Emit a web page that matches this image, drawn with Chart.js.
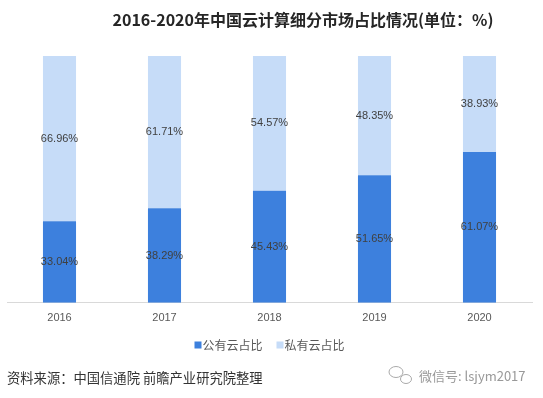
<!DOCTYPE html>
<html>
<head>
<meta charset="utf-8">
<script src="https://cdn.jsdelivr.net/npm/chart.js@4"></script>
<style>
  html, body { margin: 0; padding: 0; background: #fff; }
  #wrap { position: relative; width: 543px; height: 398px; }
</style>
</head>
<body>
<div id="wrap"><canvas id="chart" width="543" height="398"></canvas></div>
<script>
const years = ['2016', '2017', '2018', '2019', '2020'];
const publicShare = [33.04, 38.29, 45.43, 51.65, 61.07];
const privateShare = [66.96, 61.71, 54.57, 48.35, 38.93];
const seriesNames = ['公有云占比', '私有云占比'];

const FONT = '"Liberation Sans", "Noto Sans CJK SC", sans-serif';
const CJK = '"Noto Sans CJK SC", sans-serif';

// labels in the middle of each bar segment
const segmentLabels = {
    id: 'segmentLabels',
    afterDatasetsDraw(chart) {
        const ctx = chart.ctx;
        ctx.save();
        ctx.font = '11px ' + FONT;
        ctx.fillStyle = '#404040';
        ctx.textAlign = 'center';
        ctx.textBaseline = 'middle';
        chart.data.datasets.forEach((ds, i) => {
            chart.getDatasetMeta(i).data.forEach((bar, j) => {
                const p = bar.getCenterPoint();
                ctx.fillText(ds.data[j].toFixed(2) + '%', p.x, p.y);
            });
        });
        ctx.restore();
    }
};

// legend drawn by hand so box/text spacing matches
const bottomLegend = {
    id: 'bottomLegend',
    afterDraw(chart) {
        const ctx = chart.ctx;
        const y = 345;
        ctx.save();
        ctx.font = '12px ' + CJK;
        ctx.textBaseline = 'middle';
        const items = chart.data.datasets.map(ds => ({
            text: ds.label, color: ds.backgroundColor, w: 8 + ctx.measureText(ds.label).width
        }));
        const gap = 14;
        let total = items.reduce((s, it) => s + it.w, 0) + gap * (items.length - 1);
        let x = (chart.chartArea.left + chart.chartArea.right) / 2 - total / 2;
        items.forEach(it => {
            ctx.fillStyle = it.color;
            ctx.fillRect(x, y - 3.5, 7, 7);
            ctx.fillStyle = '#595959';
            ctx.fillText(it.text, x + 8, y);
            x += it.w + gap;
        });
        ctx.restore();
    }
};

// title, source line and wechat note
const extraText = {
    id: 'extraText',
    afterDraw(chart) {
        const ctx = chart.ctx;
        ctx.save();
        ctx.fillStyle = '#262626';
        ctx.font = 'bold 16px ' + CJK;
        ctx.textAlign = 'center';
        ctx.textBaseline = 'middle';
        ctx.fillText('2016-2020年中国云计算细分市场占比情况(单位：%)', 303, 20);

        ctx.textAlign = 'left';
        ctx.fillStyle = '#333';
        ctx.font = '13.3px ' + CJK;
        ctx.fillText('资料来源：中国信通院 前瞻产业研究院整理', 7, 378);

        ctx.fillStyle = '#999';
        ctx.font = '13px ' + CJK;
        ctx.fillText('微信号: lsjym2017', 419, 376);

        // little wechat bubbles
        ctx.strokeStyle = '#aaa';
        ctx.lineWidth = 1;
        ctx.beginPath();
        ctx.ellipse(396, 372, 7, 5.5, 0, 0, Math.PI * 2);
        ctx.stroke();
        ctx.beginPath();
        ctx.ellipse(406, 379, 5.5, 4.5, 0, 0, Math.PI * 2);
        ctx.stroke();
        ctx.restore();
    }
};

new Chart(document.getElementById('chart'), {
    type: 'bar',
    data: {
        labels: years,
        datasets: [
            { label: seriesNames[0], data: publicShare, backgroundColor: '#3d80dd' },
            { label: seriesNames[1], data: privateShare, backgroundColor: '#c6dcf8' }
        ]
    },
    options: {
        responsive: false,
        animation: false,
        layout: { padding: { top: 56, left: 7, right: 11, bottom: 65 } },
        datasets: { bar: { categoryPercentage: 1, barPercentage: 0.315 } },
        scales: {
            x: {
                stacked: true,
                grid: { display: false, drawTicks: false },
                border: { display: true, color: '#d9d9d9' },
                ticks: { color: '#595959', font: { size: 11, family: FONT }, padding: 8.5 }
            },
            y: {
                stacked: true,
                display: false,
                min: 0,
                max: 100
            }
        },
        plugins: {
            legend: { display: false },
            tooltip: { enabled: false }
        }
    },
    plugins: [segmentLabels, bottomLegend, extraText]
});
</script>
</body>
</html>
